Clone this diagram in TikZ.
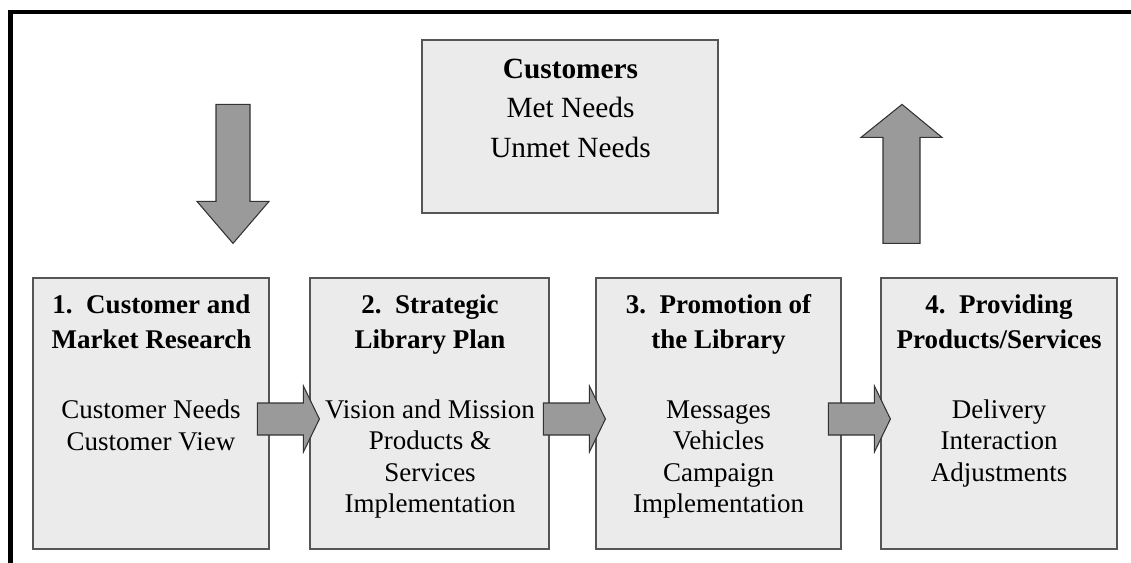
\documentclass[tikz,border=0pt]{standalone}
\usepackage{fontspec}
\setmainfont{Liberation Serif}
\usetikzlibrary{calc}

\definecolor{boxfill}{HTML}{EBEBEB}
\definecolor{boxline}{HTML}{555555}
\definecolor{arrowfill}{HTML}{9A9A9A}
\definecolor{arrowline}{HTML}{333333}

\tikzset{
  stagebox/.style={draw=boxline, fill=boxfill, line width=0.9pt, inner sep=0pt,
                   minimum height=203.25pt},
  blockarrow/.style={draw=arrowline, fill=arrowfill, line width=0.8pt, line join=miter},
  title/.style={font=\fontsize{20.25pt}{24pt}\selectfont\bfseries, anchor=base, inner sep=0pt},
  body/.style={font=\fontsize{20.25pt}{24pt}\selectfont, anchor=base, inner sep=0pt},
  ctitle/.style={font=\fontsize{22pt}{26pt}\selectfont\bfseries, anchor=base, inner sep=0pt},
  cbody/.style={font=\fontsize{22pt}{26pt}\selectfont, anchor=base, inner sep=0pt},
}
% right-pointing block arrow whose tip sits 10 units inside the target box
\newcommand{\rightblock}[2]{%
  \draw[blockarrow] ($(#2.west)+(-52,5.5)$) coordinate (#1)
    ++(0,-16) -- ++(46,0) -- ++(0,-17) -- ++(16,33) -- ++(-16,33)
    -- ++(0,-17) -- ++(-46,0) -- cycle;}

\begin{document}
\begin{tikzpicture}[x=0.75pt, y=-0.75pt]
  \useasboundingbox (0,0) rectangle (1131,563);

  % open frame: top and left rules
  \draw[line width=3.4pt] (10.5,563) -- (10.5,12) -- (1131,12);

  % customers box
  \node[stagebox, minimum width=222pt, minimum height=129.75pt] (cust) at (570,126.5) {};
  \node[ctitle] (custA) at (570.5,79) {Customers};
  \node[cbody]  (custB) at (570.5,118) {Met Needs};
  \node[cbody]  (custC) at (570.5,157) {Unmet Needs};

  % the four stages
  \node[stagebox, minimum width=177pt]    (b1) at (151,413.5) {};
  \node[stagebox, minimum width=179.25pt] (b2) at (429.5,413.5) {};
  \node[stagebox, minimum width=183.75pt] (b3) at (718.5,413.5) {};
  \node[stagebox, minimum width=177pt]    (b4) at (999,413.5) {};

  % stage 1
  \node[title] (b1t1) at (151.5,313) {1.\hspace{0.5em}Customer and};
  \node[title] (b1t2) at (151.5,348) {Market Research};
  \node[body]  (b1l1) at (151,418) {Customer Needs};
  \node[body]  (b1l2) at (151,450) {Customer View};

  % stage 2
  \node[title] (b2t1) at (430,313) {2.\hspace{0.5em}Strategic};
  \node[title] (b2t2) at (430,348) {Library Plan};
  \node[body]  (b2l1) at (430,418) {Vision and Mission};
  \node[body]  (b2l2) at (430,449.5) {Products \&};
  \node[body]  (b2l3) at (430,481) {Services};
  \node[body]  (b2l4) at (430,512) {Implementation};

  % stage 3
  \node[title] (b3t1) at (718.5,313) {3.\hspace{0.5em}Promotion of};
  \node[title] (b3t2) at (718.5,348) {the Library};
  \node[body]  (b3l1) at (718.5,418) {Messages};
  \node[body]  (b3l2) at (718.5,449.5) {Vehicles};
  \node[body]  (b3l3) at (718.5,481) {Campaign};
  \node[body]  (b3l4) at (718.5,512) {Implementation};

  % stage 4
  \node[title] (b4t1) at (999,313) {4.\hspace{0.5em}Providing};
  \node[title] (b4t2) at (999,348) {Products/Services};
  \node[body]  (b4l1) at (999,418) {Delivery};
  \node[body]  (b4l2) at (999,449.5) {Interaction};
  \node[body]  (b4l3) at (999,481) {Adjustments};

  % block arrows between the stages
  \rightblock{a12}{b2}
  \rightblock{a23}{b3}
  \rightblock{a34}{b4}

  % input arrow into stage 1
  \coordinate (inTip) at ($(b1.north)+(82,-34)$);
  \draw[blockarrow] (inTip) -- ++(36,-42) -- ++(-19,0) -- ++(0,-97) -- ++(-34,0)
    -- ++(0,97) -- ++(-19,0) -- cycle;

  % output arrow out of stage 4
  \coordinate (outBase) at ($(b4.north)+(-97.5,-34)$);
  \draw[blockarrow] ($(outBase)+(-18.5,0)$) -- ++(0,-106) -- ++(-22,0) -- ++(41,-33)
    -- ++(40,33) -- ++(-22,0) -- ++(0,106) -- cycle;
\end{tikzpicture}
\end{document}
